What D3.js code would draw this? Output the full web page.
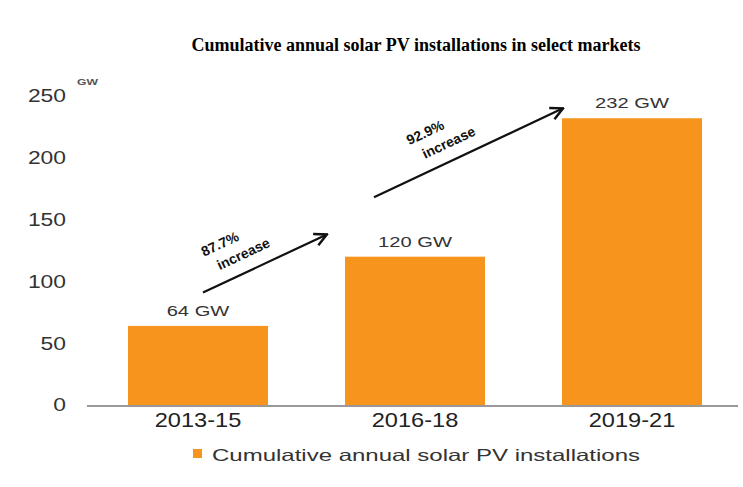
<!DOCTYPE html>
<html>
<head>
<meta charset="utf-8">
<script src="https://cdn.jsdelivr.net/npm/d3@7"></script>
<style>
  body { margin: 0; background: #fff; }
  svg { display: block; }
</style>
</head>
<body>
<script>
// chart data
var periods = ["2013-15", "2016-18", "2019-21"];
var installs = [64, 120, 232];
var barLabels = ["64 GW", "120 GW", "232 GW"];
var yTicks = [0, 50, 100, 150, 200, 250];

// growth arrows, in bar-index / GW units
var arrowFrom = [[0.023, 91], [0.811, 168]];
var arrowTo = [[0.594, 138], [1.682, 240]];
var arrowPct = ["87.7%", "92.9%"];
var noteAlong = [36, 74];

var width = 743,
    height = 487,
    orange = "#f7941d",
    sans = "Liberation Sans, Arial, sans-serif";

var svg = d3.select("body")
    .append("svg")
    .attr("width", width)
    .attr("height", height);

//scales
var x = d3.scaleBand()
    .domain(periods)
    .range([89.5, 740.5])
    .paddingInner(0.355)
    .paddingOuter(0.1775);

var y = d3.scaleLinear()
    .domain([0, 250])
    .range([405, 96]);

// index scale for arrow placement between bars
var xi = d3.scaleLinear()
    .domain([0, 1])
    .range([x(periods[0]) + x.bandwidth() / 2, x(periods[1]) + x.bandwidth() / 2]);

// text in the source is stretched sideways
function stretched(sel, px, py, sx) {
    return sel.attr("transform", function(d, i) {
        return "translate(" + px(d, i) + "," + py(d, i) + ") scale(" + sx + ",1)";
    });
}

//title
svg.append("text")
    .attr("x", 416)
    .attr("y", 51)
    .attr("text-anchor", "middle")
    .style("font-family", "Liberation Serif, Times New Roman, serif")
    .style("font-weight", "bold")
    .style("font-size", "18px")
    .text("Cumulative annual solar PV installations in select markets");

//y tick labels
stretched(svg.selectAll(".ytick")
    .data(yTicks)
    .enter()
    .append("text")
    .attr("class", "ytick"),
    function() { return 66; }, function(d) { return y(d); }, 1.27)
    .attr("dy", "0.35em")
    .attr("text-anchor", "end")
    .style("font-family", sans)
    .style("font-size", "18px")
    .style("fill", "#333")
    .text(function(d) { return d; });

svg.append("text")
    .attr("x", 77)
    .attr("y", 85)
    .attr("textLength", 21)
    .attr("lengthAdjust", "spacingAndGlyphs")
    .style("font-family", sans)
    .style("font-weight", "bold")
    .style("font-size", "8.5px")
    .style("fill", "#555")
    .text("GW");

//bars
svg.selectAll(".bar")
    .data(installs)
    .enter()
    .append("rect")
    .attr("class", "bar")
    .attr("x", function(d, i) { return x(periods[i]); })
    .attr("y", function(d) { return y(d); })
    .attr("width", x.bandwidth())
    .attr("height", function(d) { return y(0) - y(d); })
    .style("fill", orange);

//baseline
svg.append("line")
    .attr("x1", 87)
    .attr("x2", 738)
    .attr("y1", y(0) + 1)
    .attr("y2", y(0) + 1)
    .style("stroke", "#999")
    .style("stroke-width", 2);

//value labels
stretched(svg.selectAll(".vlabel")
    .data(installs)
    .enter()
    .append("text")
    .attr("class", "vlabel"),
    function(d, i) { return x(periods[i]) + x.bandwidth() / 2; },
    function(d) { return y(d) - 10; }, 1.3)
    .attr("text-anchor", "middle")
    .style("font-family", sans)
    .style("font-size", "15.5px")
    .style("fill", "#333")
    .text(function(d, i) { return barLabels[i]; });

//category labels
stretched(svg.selectAll(".xlabel")
    .data(periods)
    .enter()
    .append("text")
    .attr("class", "xlabel"),
    function(d) { return x(d) + x.bandwidth() / 2; },
    function() { return 427; }, 1.18)
    .attr("text-anchor", "middle")
    .style("font-family", sans)
    .style("font-size", "20px")
    .style("fill", "#222")
    .text(function(d) { return d; });

//arrowhead marker
svg.append("defs").append("marker")
    .attr("id", "head")
    .attr("viewBox", "0 0 10 10")
    .attr("refX", 9)
    .attr("refY", 5)
    .attr("markerWidth", 7)
    .attr("markerHeight", 7)
    .attr("orient", "auto")
    .append("path")
    .attr("d", "M1,1 L9,5 L1,9")
    .style("fill", "none")
    .style("stroke", "#111")
    .style("stroke-width", 1.6);

svg.selectAll(".arrow")
    .data(arrowFrom)
    .enter()
    .append("line")
    .attr("class", "arrow")
    .attr("x1", function(d) { return xi(d[0]); })
    .attr("y1", function(d) { return y(d[1]); })
    .attr("x2", function(d, i) { return xi(arrowTo[i][0]); })
    .attr("y2", function(d, i) { return y(arrowTo[i][1]); })
    .style("stroke", "#111")
    .style("stroke-width", 2.2)
    .attr("marker-end", "url(#head)");

//arrow captions, rotated along the arrow
var notes = svg.selectAll(".note")
    .data(arrowFrom)
    .enter()
    .append("text")
    .attr("class", "note")
    .attr("transform", function(d, i) {
        var x1 = xi(d[0]), y1 = y(d[1]),
            x2 = xi(arrowTo[i][0]), y2 = y(arrowTo[i][1]);
        var ang = Math.atan2(y2 - y1, x2 - x1) * 180 / Math.PI;
        return "translate(" + x1 + "," + y1 + ") rotate(" + ang + ")";
    })
    .attr("text-anchor", "middle")
    .style("font-family", sans)
    .style("font-weight", "bold")
    .style("font-size", "14px")
    .style("fill", "#111");

notes.append("tspan")
    .attr("x", function(d, i) { return noteAlong[i]; })
    .attr("y", -32)
    .text(function(d, i) { return arrowPct[i]; });

notes.append("tspan")
    .attr("x", function(d, i) { return noteAlong[i] + 17; })
    .attr("y", -13)
    .text("increase");

//legend
svg.append("rect")
    .attr("x", 193)
    .attr("y", 449)
    .attr("width", 9)
    .attr("height", 9)
    .style("fill", orange);

svg.append("text")
    .attr("x", 212)
    .attr("y", 461)
    .attr("textLength", 428)
    .attr("lengthAdjust", "spacingAndGlyphs")
    .style("font-family", sans)
    .style("font-size", "16.5px")
    .style("fill", "#333")
    .text("Cumulative annual solar PV installations");
</script>
</body>
</html>
